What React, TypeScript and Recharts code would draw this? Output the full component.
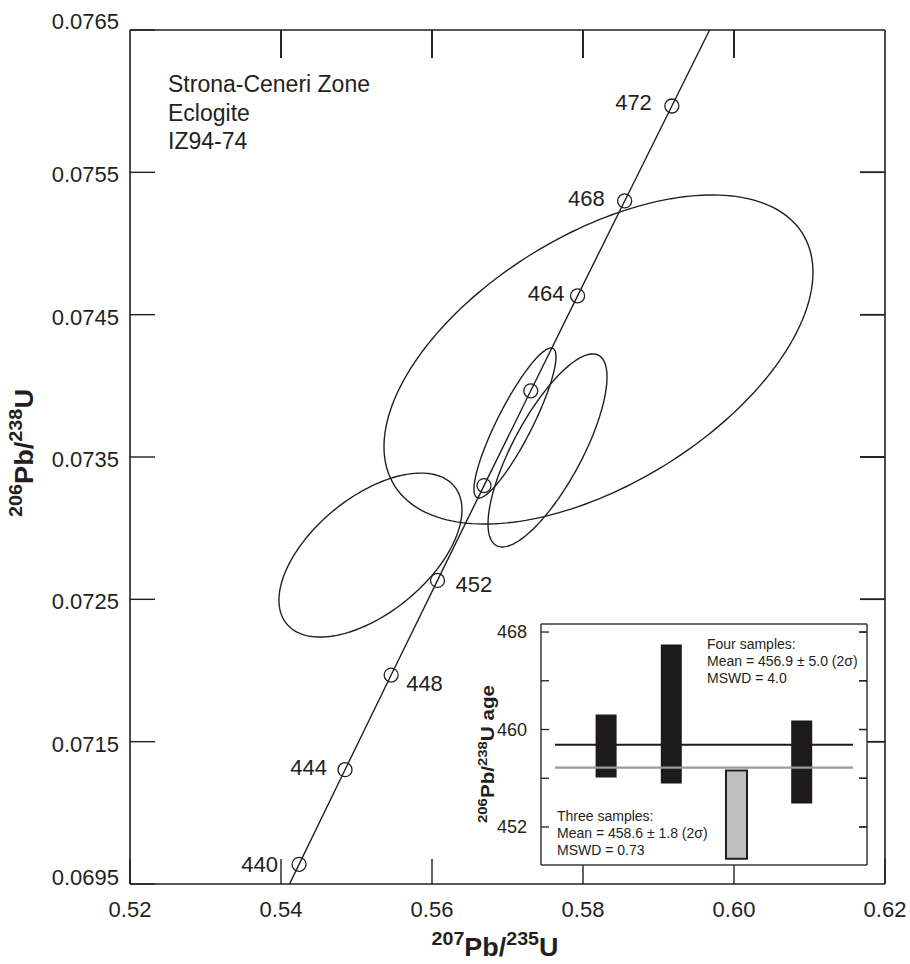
import React from 'react';
import { ScatterChart, ComposedChart, Scatter, XAxis, YAxis, Bar, Cell, ReferenceLine } from 'recharts';

const FONT = '"Liberation Sans", Arial, Helvetica, sans-serif';
const INK = '#231f20';

// ---------------- main concordia diagram data ----------------
const xTicks = [0.52, 0.54, 0.56, 0.58, 0.6, 0.62];
const xTickLabels = ['0.52', '0.54', '0.56', '0.58', '0.60', '0.62'];
const yTicks = [0.0705, 0.0715, 0.0725, 0.0735, 0.0745, 0.0755, 0.0765];
const yTickLabels = ['0.0695', '0.0715', '0.0725', '0.0735', '0.0745', '0.0755', '0.0765'];
const xDomain = [0.52, 0.62];
const yDomain = [0.0705, 0.0765];

const markerAges = [440, 444, 448, 452, 456, 460, 464, 468, 472];
const marker207 = [0.54239, 0.54848, 0.55459, 0.56073, 0.56689, 0.57308, 0.57928, 0.58552, 0.59177];
const marker206 = [0.070638, 0.071303, 0.071968, 0.072633, 0.073299, 0.073965, 0.074632, 0.075299, 0.075966];

const concordia207 = [0.54113, ...marker207, 0.59677];
const concordia206 = [0.0705, ...marker206, 0.0765];

// error ellipses: centre, half-extent in x and y, correlation
const ellipseX = [0.58205, 0.55185, 0.57099, 0.5753];
const ellipseY = [0.074185, 0.072811, 0.073739, 0.073546];
const ellipseSx = [0.02841, 0.01212, 0.00543, 0.00788];
const ellipseSy = [0.001156, 0.000576, 0.000527, 0.000678];
const ellipseRho = [0.53, 0.55, 0.88, 0.76];

const sampleTitle = ['Strona-Ceneri Zone', 'Eclogite', 'IZ94-74'];

// ---------------- inset data ----------------
const insetSamples = [1, 2, 3, 4];
const insetLow = [456.06, 455.57, 449.4, 453.93];
const insetHigh = [461.23, 466.97, 456.64, 460.74];
const insetTicks = [452, 456, 460, 464, 468];
const insetTickLabels = ['452', '', '460', '', '468'];
const insetXDomain = [0, 5];
const insetYDomain = [448.88, 468.66];
const insetMeans = [458.75, 456.88];
const insetMeanSpan = [0.215, 4.785];
const fourSamplesText = ['Four samples:', 'Mean = 456.9 ± 5.0 (2σ)', 'MSWD = 4.0'];
const threeSamplesText = ['Three samples:', 'Mean = 458.6 ± 1.8 (2σ)', 'MSWD = 0.73'];

// ---------------- layout & styles ----------------
const MAIN_W = 910;
const MAIN_H = 964;
const MAIN_MARGIN = { top: 29, right: 24, bottom: 0, left: 0 };
const PLOT_TOP = MAIN_MARGIN.top + 1;
const PLOT_RIGHT = MAIN_W - MAIN_MARGIN.right - 1;
const INSET_W = 420;
const INSET_H = 270;
const INSET_MARGIN = { top: 13, right: 12, bottom: 14, left: 0 };
const INSET_PLOT_RIGHT = INSET_W - INSET_MARGIN.right - 1;

// inner tick lengths of the mirrored (top / right) frame ticks, in axis units
const TOP_TICK_LEN = 0.000197;
const RIGHT_TICK_LEN = 0.0033;
const INSET_RIGHT_TICK_LEN = 0.12;
const insetBarFill = ['#1c1a1b', '#1c1a1b', '#bdbfc1', '#1c1a1b'];
const insetMeanColor = ['#1c1a1b', '#9a9a9a'];
const ageLabelStyle: Record<number, { anchor: 'start' | 'end'; dx: number; dy: number } | null> = {
  440: { anchor: 'end', dx: -21, dy: 8 },
  444: { anchor: 'end', dx: -18, dy: 5 },
  448: { anchor: 'start', dx: 15, dy: 16 },
  452: { anchor: 'start', dx: 18, dy: 12 },
  456: null,
  460: null,
  464: { anchor: 'end', dx: -13, dy: 5 },
  468: { anchor: 'end', dx: -20, dy: 5 },
  472: { anchor: 'end', dx: -20, dy: 4 },
};

const concordiaData = concordia207.map((x, i) => ({ x, y: concordia206[i] }));
const markerData = markerAges.map((age, i) => ({ age, x: marker207[i], y: marker206[i] }));
const ellipseData = ellipseX.map((_, i) => {
  const pts: { x: number; y: number }[] = [];
  const n = 200;
  const r = ellipseRho[i];
  const k = Math.sqrt(1 - r * r);
  for (let j = 0; j <= n; j++) {
    const t = (j / n) * 2 * Math.PI;
    pts.push({
      x: ellipseX[i] + ellipseSx[i] * Math.cos(t),
      y: ellipseY[i] + ellipseSy[i] * (r * Math.cos(t) + k * Math.sin(t)),
    });
  }
  return pts;
});
const topTickData = xTicks.slice(1, -1).map((x) => ({ x, y: yDomain[1] }));
const rightTickData = yTicks.slice(1, -1).map((y) => ({ x: xDomain[1], y }));
const insetData = insetSamples.map((s, i) => ({ s, range: [insetLow[i], insetHigh[i]] }));

const findIndex = (arr: number[], v: number) => arr.findIndex((a) => Math.abs(a - v) < 1e-9);

// ---------------- tick renderers ----------------
const BottomTick = (p: any) => {
  const i = findIndex(xTicks, p.payload.value);
  const inner = i > 0 && i < xTicks.length - 1;
  return (
    <g>
      <line x1={p.x} y1={p.y} x2={p.x} y2={p.y - 25} stroke={INK} strokeWidth={1.4} />
      {inner && <line x1={p.x} y1={PLOT_TOP} x2={p.x} y2={PLOT_TOP + 28} stroke={INK} strokeWidth={1.4} />}
      <text x={p.x} y={p.y + 33} textAnchor="middle" fontFamily={FONT} fontSize={22} fill={INK}>
        {xTickLabels[i]}
      </text>
    </g>
  );
};
const LeftTick = (p: any) => {
  const i = findIndex(yTicks, p.payload.value);
  const inner = i > 0 && i < yTicks.length - 1;
  const shift = i === yTicks.length - 1 ? -1 : i === 0 ? 1 : 10;
  return (
    <g>
      <line x1={p.x} y1={p.y} x2={p.x + 25} y2={p.y} stroke={INK} strokeWidth={1.4} />
      {inner && <line x1={PLOT_RIGHT} y1={p.y} x2={PLOT_RIGHT - 25} y2={p.y} stroke={INK} strokeWidth={1.4} />}
      <text x={p.x - 11} y={p.y + shift} textAnchor="end" fontFamily={FONT} fontSize={22} fill={INK}>
        {yTickLabels[i]}
      </text>
    </g>
  );
};
const TopTickMark = (p: any) => <line x1={p.cx} y1={p.cy} x2={p.cx} y2={p.cy + 28} stroke={INK} strokeWidth={1.4} />;
const RightTickMark = (p: any) => <line x1={p.cx} y1={p.cy} x2={p.cx - 25} y2={p.cy} stroke={INK} strokeWidth={1.4} />;

const InsetLeftTick = (p: any) => {
  const i = findIndex(insetTicks, p.payload.value);
  return (
    <g>
      <line x1={p.x} y1={p.y} x2={p.x + 8} y2={p.y} stroke={INK} strokeWidth={1.3} />
      <line x1={INSET_PLOT_RIGHT} y1={p.y} x2={INSET_PLOT_RIGHT - 8} y2={p.y} stroke={INK} strokeWidth={1.3} />
      <text x={p.x - 14} y={p.y + 6} textAnchor="end" fontFamily={FONT} fontSize={18} fill={INK}>
        {insetTickLabels[i]}
      </text>
    </g>
  );
};

const Marker = (p: any) => {
  const st = ageLabelStyle[p.payload.age];
  return (
    <g>
      <circle cx={p.cx} cy={p.cy} r={7} fill="none" stroke={INK} strokeWidth={1.3} />
      {st && (
        <text x={p.cx + st.dx} y={p.cy + st.dy} textAnchor={st.anchor} fontFamily={FONT} fontSize={22} fill={INK}>
          {p.payload.age}
        </text>
      )}
    </g>
  );
};

const Nothing = () => <g />;

const IsotopeTitle = ({ x, y, a, b, c, d, size, sup, rise, length, rotate }: any) => (
  <text
    x={x}
    y={y}
    textAnchor="middle"
    fontFamily={FONT}
    fontWeight="bold"
    fill={INK}
    textLength={length}
    lengthAdjust="spacingAndGlyphs"
    transform={rotate ? `rotate(-90 ${x} ${y})` : undefined}
  >
    <tspan fontSize={sup} dy={-rise}>{a}</tspan>
    <tspan fontSize={size} dy={rise}>{b}</tspan>
    <tspan fontSize={sup} dy={-rise}>{c}</tspan>
    <tspan fontSize={size} dy={rise}>{d}</tspan>
  </text>
);

export default function App() {
  return (
    <div style={{ position: 'absolute', left: 0, top: 0, width: MAIN_W, height: MAIN_H, background: '#fff', fontFamily: FONT }}>
      <div style={{ position: 'absolute', left: 0, top: 0 }}>
        <ScatterChart width={MAIN_W} height={MAIN_H} margin={MAIN_MARGIN}>
          <XAxis
            xAxisId={0}
            type="number"
            dataKey="x"
            domain={xDomain}
            ticks={xTicks}
            interval={0}
            allowDataOverflow
            height={80}
            tickSize={0}
            tickMargin={0}
            tickLine={false}
            axisLine={{ stroke: INK, strokeWidth: 1.6 }}
            tick={(p: any) => <BottomTick {...p} />}
          />
          <XAxis
            xAxisId="top"
            orientation="top"
            type="number"
            dataKey="x"
            domain={xDomain}
            allowDataOverflow
            height={1}
            tick={false}
            tickLine={false}
            axisLine={{ stroke: INK, strokeWidth: 1.6 }}
          />
          <YAxis
            yAxisId={0}
            type="number"
            dataKey="y"
            domain={yDomain}
            ticks={yTicks}
            interval={0}
            allowDataOverflow
            width={130}
            tickSize={0}
            tickMargin={0}
            tickLine={false}
            axisLine={{ stroke: INK, strokeWidth: 1.6 }}
            tick={(p: any) => <LeftTick {...p} />}
          />
          <YAxis
            yAxisId="right"
            orientation="right"
            type="number"
            dataKey="y"
            domain={yDomain}
            allowDataOverflow
            width={1}
            tick={false}
            tickLine={false}
            axisLine={{ stroke: INK, strokeWidth: 1.6 }}
          />
          {xTicks.slice(1, -1).map((x) => (
            <ReferenceLine
              key={'tt' + x}
              segment={[
                { x, y: yDomain[1] },
                { x, y: yDomain[1] - TOP_TICK_LEN },
              ]}
              stroke={INK}
              strokeWidth={1.4}
              ifOverflow="visible"
            />
          ))}
          {yTicks.slice(1, -1).map((y) => (
            <ReferenceLine
              key={'rt' + y}
              segment={[
                { x: xDomain[1], y },
                { x: xDomain[1] - RIGHT_TICK_LEN, y },
              ]}
              stroke={INK}
              strokeWidth={1.4}
              ifOverflow="visible"
            />
          ))}
          {ellipseData.map((pts, i) => (
            <Scatter
              key={'e' + i}
              data={pts}
              line={{ stroke: INK, strokeWidth: 1.4 }}
              shape={Nothing}
              isAnimationActive={false}
            />
          ))}
          <Scatter data={concordiaData} line={{ stroke: INK, strokeWidth: 1.4 }} shape={Nothing} isAnimationActive={false} />
          <Scatter data={concordiaData} xAxisId="top" yAxisId="right" shape={Nothing} isAnimationActive={false} />
          <Scatter data={topTickData} shape={(p: any) => <TopTickMark {...p} />} isAnimationActive={false} />
          <Scatter data={rightTickData} shape={(p: any) => <RightTickMark {...p} />} isAnimationActive={false} />
          <Scatter data={markerData} shape={(p: any) => <Marker {...p} />} isAnimationActive={false} />
          {sampleTitle.map((t, i) => (
            <text key={t} x={168} y={92 + i * 28.5} fontFamily={FONT} fontSize={23} fill={INK}>
              {t}
            </text>
          ))}
          <IsotopeTitle x={495} y={956} a="207" b="Pb/" c="235" d="U" size={26} sup={19} rise={11} length={127} />
          <IsotopeTitle x={33} y={453} a="206" b="Pb/" c="238" d="U" size={26} sup={19} rise={11} length={128} rotate />
        </ScatterChart>
      </div>
      <div style={{ position: 'absolute', left: 541, top: 624, width: 326, height: 241, background: '#fff' }} />
      <div style={{ position: 'absolute', left: 460, top: 610 }}>
        <ComposedChart width={INSET_W} height={INSET_H} data={insetData} margin={INSET_MARGIN}>
          <XAxis
            xAxisId={0}
            type="number"
            dataKey="s"
            domain={insetXDomain}
            allowDataOverflow
            height={1}
            tick={false}
            tickLine={false}
            axisLine={{ stroke: '#3a3a3a', strokeWidth: 1.5 }}
          />
          <XAxis
            xAxisId="top"
            orientation="top"
            type="number"
            dataKey="s"
            domain={insetXDomain}
            allowDataOverflow
            height={1}
            tick={false}
            tickLine={false}
            axisLine={{ stroke: '#3a3a3a', strokeWidth: 1.5 }}
          />
          <YAxis
            yAxisId={0}
            type="number"
            domain={insetYDomain}
            ticks={insetTicks}
            interval={0}
            allowDataOverflow
            width={81}
            tickSize={0}
            tickMargin={0}
            tickLine={false}
            axisLine={{ stroke: '#3a3a3a', strokeWidth: 1.5 }}
            tick={(p: any) => <InsetLeftTick {...p} />}
          />
          <YAxis
            yAxisId="right"
            orientation="right"
            type="number"
            domain={insetYDomain}
            allowDataOverflow
            width={1}
            tick={false}
            tickLine={false}
            axisLine={{ stroke: '#3a3a3a', strokeWidth: 1.5 }}
          />
          {insetTicks.map((v) => (
            <ReferenceLine
              key={'irt' + v}
              segment={[
                { x: insetXDomain[1], y: v },
                { x: insetXDomain[1] - INSET_RIGHT_TICK_LEN, y: v },
              ]}
              stroke={INK}
              strokeWidth={1.3}
              ifOverflow="visible"
            />
          ))}
          {insetMeans.map((m, i) => (
            <ReferenceLine
              key={'m' + i}
              segment={[
                { x: insetMeanSpan[0], y: m },
                { x: insetMeanSpan[1], y: m },
              ]}
              stroke={insetMeanColor[i]}
              strokeWidth={2.2}
              ifOverflow="visible"
            />
          ))}
          <Bar dataKey="range" barSize={21} isAnimationActive={false}>
            {insetData.map((d, i) => (
              <Cell key={i} fill={insetBarFill[i]} stroke={INK} strokeWidth={i === 2 ? 2 : 0} />
            ))}
          </Bar>
          {fourSamplesText.map((t, i) => (
            <text key={t} x={247} y={39 + i * 17} fontFamily={FONT} fontSize={14} fill={INK}>
              {t}
            </text>
          ))}
          {threeSamplesText.map((t, i) => (
            <text key={t} x={97} y={211 + i * 17} fontFamily={FONT} fontSize={14} fill={INK}>
              {t}
            </text>
          ))}
          <text
            x={34}
            y={144}
            textAnchor="middle"
            fontFamily={FONT}
            fontWeight="bold"
            fill={INK}
            textLength={138}
            lengthAdjust="spacingAndGlyphs"
            transform="rotate(-90 34 144)"
          >
            <tspan fontSize={13} dy={-7}>206</tspan>
            <tspan fontSize={18} dy={7}>Pb/</tspan>
            <tspan fontSize={13} dy={-7}>238</tspan>
            <tspan fontSize={18} dy={7}>U age</tspan>
          </text>
        </ComposedChart>
      </div>
    </div>
  );
}
